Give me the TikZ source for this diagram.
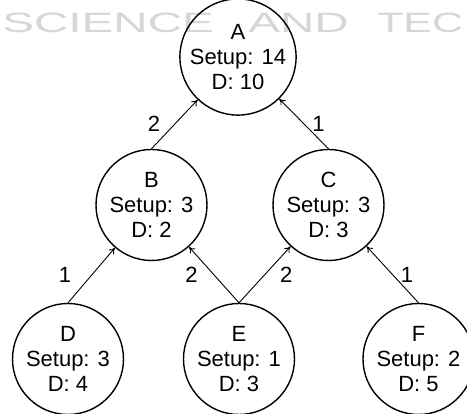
\documentclass[tikz,border=0pt]{standalone}
\usepackage{fontspec}
\setmainfont{Liberation Sans}
\usetikzlibrary{arrows.meta}

\begin{document}
\begin{tikzpicture}[
    x=1pt, y=1pt,
    >={To[length=6pt,width=7pt]},
    task/.style={circle,draw,line width=1.4pt,inner sep=0pt,minimum size=111pt,
      align=center,font=\fontsize{22}{25}\selectfont},
    weight/.style={inner sep=0pt,font=\fontsize{22}{25}\selectfont},
    mark text/.style={text=black!16,inner sep=0pt,font=\fontsize{28}{30}\selectfont,xscale=1.7,anchor=base west}
    ]

    \useasboundingbox (0,0) rectangle (467,414);

    % watermark:
    \node (wm1) at (2, 381) [mark text] {SCIENCE};
    \node (wm2) at (248, 381) [mark text] {AND};
    \node (wm3) at (377, 381) [mark text,xscale=0.9] {TEC};

    % tasks:
    \foreach \n/\x/\y/\s/\d in {A/238/357/14/10, B/151.5/209/3/2, C/328.5/209/3/3,
                                D/68/55/3/4, E/239/55/1/3, F/418.5/55/2/5}
    \node (\n) at (\x, \y) [task] {\n\\Setup: \s\\D: \d};

    % connections:
    \draw [->,line width=0.9pt] (B.north) to node [weight,left=14pt] {2} (A);
    \draw [->,line width=0.9pt] (C.north) to node [weight,right=8pt] {1} (A);
    \draw [->,line width=0.9pt] (D.north) to node [weight,left=20pt] {1} (B);
    \draw [->,line width=0.9pt] (E.north) to node [weight,left=16pt] {2} (B);
    \draw [->,line width=0.9pt] (E.north) to node [weight,right=15pt] {2} (C);
    \draw [->,line width=0.9pt] (F.north) to node [weight,right=8pt] {1} (C);

  \end{tikzpicture}
\end{document}
